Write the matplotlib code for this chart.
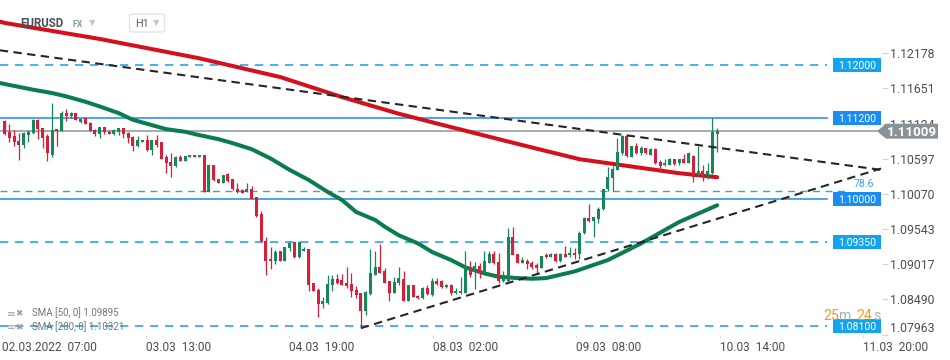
import matplotlib
matplotlib.use("Agg")
import matplotlib.pyplot as plt
import matplotlib.transforms as mtransforms
from matplotlib.patches import Polygon, FancyBboxPatch, Rectangle

plt.rcParams['font.family'] = ['Roboto', 'DejaVu Sans']

# ---------------- data ----------------
opens = [1.1116, 1.1099, 1.1094, 1.1086, 1.1080, 1.1095, 1.1098, 1.1118, 1.1105, 1.1094,
         1.1066, 1.1104, 1.1101, 1.1128, 1.1123, 1.1128, 1.1114, 1.1120, 1.1113, 1.1103,
         1.1096, 1.1107, 1.1100, 1.1096, 1.1100, 1.1105, 1.1098, 1.1092, 1.1078, 1.1084,
         1.1088, 1.1073, 1.1087, 1.1085, 1.1063, 1.1055, 1.1049, 1.1063, 1.1057, 1.1063,
         1.1066, 1.1063, 1.1066, 1.1010, 1.1050, 1.1030, 1.1024, 1.1037, 1.1029, 1.1015,
         1.1013, 1.1010, 1.1014, 1.1002, 1.0977, 1.0937, 1.0910, 1.0907, 1.0921, 1.0907,
         1.0926, 1.0935, 1.0912, 1.0922, 1.0925, 1.0873, 1.0863, 1.0842, 1.0844, 1.0870,
         1.0880, 1.0878, 1.0873, 1.0872, 1.0863, 1.0858, 1.0831, 1.0857, 1.0886, 1.0897,
         1.0892, 1.0877, 1.0858, 1.0874, 1.0879, 1.0847, 1.0870, 1.0854, 1.0851, 1.0866,
         1.0856, 1.0876, 1.0876, 1.0867, 1.0870, 1.0858, 1.0858, 1.0859, 1.0897, 1.0890,
         1.0899, 1.0889, 1.0904, 1.0917, 1.0905, 1.0876, 1.0876, 1.0943, 1.0917, 1.0904,
         1.0907, 1.0903, 1.0900, 1.0896, 1.0916, 1.0913, 1.0917, 1.0906, 1.0917, 1.0915,
         1.0919, 1.0917, 1.0948, 1.0971, 1.0966, 1.0969, 1.0984, 1.1014, 1.1031, 1.1043,
         1.1068, 1.1093, 1.1063, 1.1078, 1.1069, 1.1075, 1.1066, 1.1074, 1.1055, 1.1050,
         1.1051, 1.1059, 1.1053, 1.1059, 1.1054, 1.1064, 1.1035, 1.1042, 1.1035, 1.1038,
         1.1097]
highs = [1.1118, 1.1112, 1.1103, 1.1098, 1.1099, 1.1103, 1.1119, 1.1119, 1.1106, 1.1096,
         1.1143, 1.1104, 1.1131, 1.1134, 1.1130, 1.1128, 1.1121, 1.1120, 1.1114, 1.1104,
         1.1107, 1.1107, 1.1103, 1.1104, 1.1105, 1.1105, 1.1099, 1.1094, 1.1093, 1.1088,
         1.1095, 1.1088, 1.1095, 1.1085, 1.1066, 1.1068, 1.1064, 1.1065, 1.1064, 1.1066,
         1.1066, 1.1066, 1.1066, 1.1052, 1.1050, 1.1030, 1.1036, 1.1038, 1.1030, 1.1023,
         1.1014, 1.1023, 1.1019, 1.1003, 1.0981, 1.0943, 1.0927, 1.0923, 1.0922, 1.0927,
         1.0935, 1.0935, 1.0935, 1.0928, 1.0925, 1.0873, 1.0866, 1.0853, 1.0886, 1.0885,
         1.0887, 1.0887, 1.0897, 1.0888, 1.0869, 1.0858, 1.0861, 1.0925, 1.0921, 1.0932,
         1.0896, 1.0877, 1.0883, 1.0898, 1.0891, 1.0871, 1.0871, 1.0856, 1.0867, 1.0871,
         1.0881, 1.0881, 1.0878, 1.0872, 1.0872, 1.0866, 1.0883, 1.0922, 1.0906, 1.0905,
         1.0903, 1.0922, 1.0921, 1.0922, 1.0918, 1.0892, 1.0956, 1.0958, 1.0917, 1.0912,
         1.0909, 1.0906, 1.0904, 1.0914, 1.0919, 1.0919, 1.0918, 1.0918, 1.0929, 1.0927,
         1.0926, 1.0951, 1.0972, 1.0992, 1.0972, 1.0988, 1.1015, 1.1048, 1.1049, 1.1090,
         1.1095, 1.1095, 1.1079, 1.1083, 1.1078, 1.1076, 1.1075, 1.1075, 1.1058, 1.1059,
         1.1061, 1.1060, 1.1060, 1.1067, 1.1070, 1.1065, 1.1079, 1.1050, 1.1054, 1.1120,
         1.1105]
lows = [1.1095, 1.1084, 1.1079, 1.1058, 1.1076, 1.1085, 1.1096, 1.1089, 1.1076, 1.1057,
        1.1063, 1.1079, 1.1101, 1.1116, 1.1121, 1.1117, 1.1113, 1.1111, 1.1101, 1.1094,
        1.1090, 1.1096, 1.1096, 1.1095, 1.1095, 1.1091, 1.1083, 1.1071, 1.1077, 1.1084,
        1.1071, 1.1065, 1.1077, 1.1059, 1.1038, 1.1033, 1.1047, 1.1056, 1.1057, 1.1063,
        1.1063, 1.1063, 1.1010, 1.1010, 1.1027, 1.1024, 1.1024, 1.1025, 1.1013, 1.1008,
        1.1008, 1.1010, 1.0999, 1.0973, 1.0935, 1.0885, 1.0894, 1.0902, 1.0907, 1.0907,
        1.0922, 1.0911, 1.0911, 1.0921, 1.0862, 1.0861, 1.0822, 1.0836, 1.0842, 1.0862,
        1.0872, 1.0871, 1.0866, 1.0853, 1.0851, 1.0808, 1.0826, 1.0855, 1.0885, 1.0889,
        1.0873, 1.0847, 1.0858, 1.0871, 1.0847, 1.0846, 1.0852, 1.0849, 1.0850, 1.0855,
        1.0854, 1.0870, 1.0866, 1.0866, 1.0856, 1.0857, 1.0857, 1.0858, 1.0882, 1.0865,
        1.0881, 1.0888, 1.0903, 1.0902, 1.0874, 1.0875, 1.0875, 1.0915, 1.0903, 1.0903,
        1.0894, 1.0894, 1.0889, 1.0896, 1.0911, 1.0912, 1.0905, 1.0905, 1.0913, 1.0913,
        1.0909, 1.0910, 1.0947, 1.0965, 1.0942, 1.0964, 1.0983, 1.1012, 1.1012, 1.1043,
        1.1065, 1.1063, 1.1063, 1.1067, 1.1066, 1.1067, 1.1065, 1.1052, 1.1042, 1.1049,
        1.1050, 1.1051, 1.1051, 1.1053, 1.1053, 1.1025, 1.1034, 1.1026, 1.1029, 1.1037,
        1.1070]
closes = [1.1096, 1.1091, 1.1084, 1.1080, 1.1098, 1.1100, 1.1118, 1.1104, 1.1091, 1.1068,
          1.1103, 1.1101, 1.1128, 1.1123, 1.1128, 1.1117, 1.1119, 1.1111, 1.1101, 1.1096,
          1.1107, 1.1099, 1.1096, 1.1103, 1.1105, 1.1096, 1.1090, 1.1078, 1.1088, 1.1088,
          1.1073, 1.1087, 1.1080, 1.1059, 1.1054, 1.1049, 1.1062, 1.1057, 1.1064, 1.1066,
          1.1063, 1.1066, 1.1010, 1.1050, 1.1028, 1.1024, 1.1036, 1.1027, 1.1014, 1.1010,
          1.1009, 1.1014, 1.1000, 1.0974, 1.0936, 1.0907, 1.0906, 1.0920, 1.0907, 1.0927,
          1.0933, 1.0912, 1.0935, 1.0925, 1.0871, 1.0861, 1.0842, 1.0847, 1.0872, 1.0880,
          1.0874, 1.0871, 1.0869, 1.0861, 1.0856, 1.0831, 1.0860, 1.0888, 1.0897, 1.0889,
          1.0874, 1.0858, 1.0875, 1.0881, 1.0847, 1.0870, 1.0852, 1.0851, 1.0866, 1.0857,
          1.0876, 1.0872, 1.0867, 1.0871, 1.0858, 1.0862, 1.0862, 1.0897, 1.0886, 1.0899,
          1.0888, 1.0907, 1.0917, 1.0903, 1.0876, 1.0881, 1.0943, 1.0916, 1.0904, 1.0908,
          1.0902, 1.0898, 1.0896, 1.0914, 1.0912, 1.0917, 1.0906, 1.0917, 1.0913, 1.0919,
          1.0915, 1.0949, 1.0971, 1.0966, 1.0972, 1.0985, 1.1014, 1.1033, 1.1044, 1.1070,
          1.1093, 1.1064, 1.1079, 1.1069, 1.1076, 1.1068, 1.1074, 1.1053, 1.1049, 1.1054,
          1.1060, 1.1052, 1.1059, 1.1054, 1.1068, 1.1033, 1.1042, 1.1034, 1.1041, 1.1100,
          1.11009]

sma50_idx = [-1, 6, 10, 13, 17, 20, 24, 27, 31, 34, 38, 41, 45, 48, 52, 56, 60, 64, 68, 71,
             74, 78, 80, 83, 87, 90, 94, 97, 101, 104, 108, 111, 114, 117, 120, 127, 134, 142, 150]
sma50_val = [1.1173, 1.1163, 1.1158, 1.1153, 1.1145, 1.1138, 1.1128, 1.1118, 1.1110, 1.1104,
             1.1100, 1.1095, 1.1089, 1.1083, 1.1074, 1.1060, 1.1043, 1.1028, 1.1010, 1.0998,
             1.0980, 1.0968, 1.0958, 1.0945, 1.0933, 1.0920, 1.0908, 1.0897, 1.0888, 1.0883,
             1.0881, 1.0880, 1.0881, 1.0886, 1.0891, 1.0908, 1.0933, 1.0965, 1.0990]
sma200_idx = [-1, 0, 20, 41, 58, 71, 83, 94, 104, 113, 121, 128, 134, 142, 150]
sma200_val = [1.1265, 1.1263, 1.1239, 1.1210, 1.1182, 1.1152, 1.1127, 1.1107, 1.1089,
              1.1073, 1.1059, 1.1052, 1.1046, 1.1038, 1.1032]

trend_down_idx = [-1, 184.5]
trend_down_val = [1.1222, 1.1043]
trend_up_idx = [75, 184.5]
trend_up_val = [1.0806, 1.1045]

levels = [1.12000, 1.11200, 1.10000, 1.09350, 1.08100]
level_solid = [False, True, True, False, False]
fib_level = 1.1011
fib_text = "78.6"
last_price = 1.11009

ytick_vals = [1.12178, 1.11651, 1.11124, 1.10597, 1.10070, 1.09543, 1.09017, 1.08490, 1.07963]
xtick_hours = [0, 30, 60, 90, 120, 150, 180]
xtick_labels = ['02.03.2022  07:00', '03.03  13:00', '04.03  19:00', '08.03  02:00',
                '09.03  08:00', '10.03  14:00', '11.03  20:00']

# ---------------- figure ----------------
W, H = 950, 360
fig = plt.figure(figsize=(W / 100, H / 100), dpi=100)
fig.patch.set_facecolor('white')
ax = fig.add_axes([0, 25 / H, 882 / W, 335 / H])
ax.set_xlim(-0.97, 184.7)
ax.set_ylim(1.07958, 1.12973)
for s in ax.spines.values():
    s.set_visible(False)
ax.set_facecolor('white')

GREEN = '#17875a'
RED = '#d61f38'
BLUE_SOLID = '#2f93ee'
BLUE_DASH = '#27a5ee'

# horizontal levels
yax = ax.get_yaxis_transform()
for lv, solid in zip(levels, level_solid):
    if solid:
        ax.plot([0, 827 / 882], [lv, lv], transform=yax, color=BLUE_SOLID, lw=1.2, zorder=1)
    else:
        ax.plot([0, 827 / 882], [lv, lv], transform=yax, color=BLUE_DASH, lw=1.2,
                dashes=(5, 4), zorder=1)
ax.plot([0, 850 / 882], [fib_level, fib_level], transform=yax, color=BLUE_DASH, lw=1.0,
        dashes=(5, 4), zorder=1)
ax.plot([0, 877 / 882], [last_price, last_price], transform=yax, color='#8d959c', lw=1.1, zorder=1)

# moving averages
ax.plot(sma200_idx, sma200_val, color='#d3101d', lw=2.9, solid_capstyle='round', zorder=3)
ax.plot(sma50_idx, sma50_val, color='#0b7d4c', lw=2.9, solid_capstyle='round', zorder=3)

# candles
idx = list(range(len(opens)))
cols = [GREEN if c >= o else RED for o, c in zip(opens, closes)]
ax.vlines(idx, lows, highs, colors=cols, lw=0.9, zorder=4)
bottoms = [min(o, c) for o, c in zip(opens, closes)]
heights = [max(abs(c - o), 0.00013) for o, c in zip(opens, closes)]
ax.bar(idx, heights, bottom=bottoms, width=0.66, color=cols, linewidth=0, zorder=5)

# trend lines
ax.plot(trend_down_idx, trend_down_val, color='#262626', lw=1.5, dashes=(4, 2.6), zorder=6)
ax.plot(trend_up_idx, trend_up_val, color='#262626', lw=1.5, dashes=(4, 2.6), zorder=6)

# axes ticks
ax.yaxis.tick_right()
ax.set_yticks(ytick_vals)
ax.set_yticklabels([f'{v:.5f}' for v in ytick_vals])
ax.tick_params(axis='y', length=4.3, width=0.8, color='#cfd3d6', labelcolor='#4d4d4d',
               labelsize=8.8, pad=1.5)
ax.get_yticklabels()[-1].set_va('bottom')
ax.set_xticks([h * 30.2 / 30 - 0.5 for h in xtick_hours])
ax.set_xticklabels(xtick_labels)
ax.tick_params(axis='x', length=2.5, width=0.8, color='#dadde0', labelcolor='#4d4d4d',
               labelsize=8.6, pad=2)
for lab in ax.get_xticklabels():
    lab.set_ha('left')

# level labels (boxes)
bt = mtransforms.blended_transform_factory(fig.transFigure, ax.transData)
dp = 0.00105
for lv, solid in zip(levels, level_solid):
    fc = '#1a8cf2' if solid else '#14a4ee'
    ax.add_patch(Rectangle((833 / W, lv - dp), 48 / W, 2 * dp, transform=bt, facecolor=fc,
                           edgecolor='none', clip_on=False, zorder=8))
    ax.text(857 / W, lv, f'{lv:.5f}', transform=bt, ha='center', va='center_baseline',
            color='white', fontsize=7.6, zorder=9, clip_on=False)
ax.text(864 / W, 1.1024, fib_text, transform=bt, ha='center', va='center_baseline',
        color='#3aa3e6', fontsize=7.6, zorder=9, clip_on=False)

# last price arrow label
dq = 0.00112
poly = Polygon([(877 / W, last_price), (886 / W, last_price + dq), (938 / W, last_price + dq),
                (938 / W, last_price - dq), (886 / W, last_price - dq)], closed=True,
               transform=bt, facecolor='#8a9299', edgecolor='none', clip_on=False, zorder=10)
ax.add_patch(poly)
ax.text(912 / W, last_price, f'{last_price:.5f}', transform=bt, ha='center',
        va='center_baseline', color='white', fontsize=9.6, fontweight='bold', zorder=11,
        clip_on=False)


def fx(x):
    return x / W


def fy(y):
    return 1 - y / H


# header
fig.text(fx(20), fy(27), 'EURUSD', fontsize=8.3, fontweight='bold', color='#4a4f55',
         ha='left', va='baseline')
fig.text(fx(72.5), fy(27), 'FX', fontsize=6.4, fontweight='bold', color='#8b99a3',
         ha='left', va='baseline')
fig.text(fx(89), fy(25), '▼', fontsize=6, color='#c3c9ce', ha='left', va='baseline',
         family=['DejaVu Sans'])
fig.patches.append(FancyBboxPatch((fx(129.5), fy(32)), 35 / W, 18 / H,
                                  boxstyle='round,pad=0,rounding_size=0.004',
                                  transform=fig.transFigure, facecolor='white',
                                  edgecolor='#dfe3e7', lw=0.9))
fig.text(fx(135), fy(27), 'H1', fontsize=7.8, color='#555b61', ha='left', va='baseline')
fig.text(fx(152.5), fy(25.5), '▼', fontsize=6, color='#c3c9ce', ha='left', va='baseline',
         family=['DejaVu Sans'])

# legend of indicators
for yy, txt in [(316.5, 'SMA [50, 0] 1.09895'), (330, 'SMA [200, 0] 1.10321')]:
    fig.text(fx(6.5), fy(yy), '≡', fontsize=7.5, color='#9aa1a7', ha='left', va='baseline',
             family=['DejaVu Sans'])
    fig.text(fx(15.5), fy(yy), '✖', fontsize=6.3, color='#9aa1a7', ha='left', va='baseline',
             family=['DejaVu Sans'])
    fig.text(fx(32), fy(yy), txt, fontsize=7.0, color='#6f777e', ha='left', va='baseline')

# countdown
fig.text(fx(823), fy(320), '25', fontsize=10.2, color='#f59a1b', ha='left', va='baseline')
fig.text(fx(839.5), fy(320), 'm', fontsize=10.2, color='#aab1b8', ha='left', va='baseline')
fig.text(fx(856.5), fy(320), '24', fontsize=10.2, color='#f59a1b', ha='left', va='baseline')
fig.text(fx(873), fy(320), 's', fontsize=10.2, color='#aab1b8', ha='left', va='baseline')

fig.savefig('out.png', dpi=100, facecolor='white')
